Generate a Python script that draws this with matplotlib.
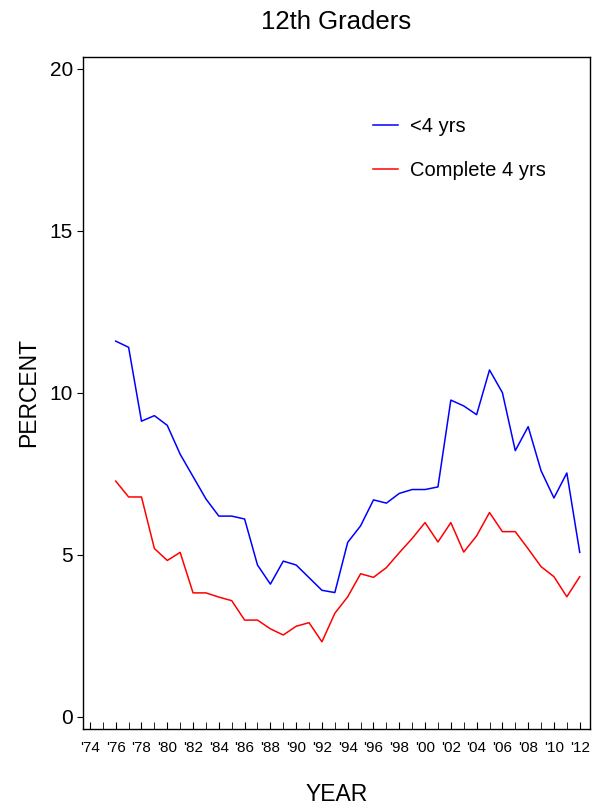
import matplotlib
matplotlib.use("Agg")
import matplotlib.pyplot as plt

plt.rcParams['font.family'] = ['Liberation Sans', 'DejaVu Sans']

# Yıllar ve iki seri (yüzde)
years = list(range(1976, 2013))
less_than_4 = [11.60, 11.41, 9.13, 9.30, 9.00, 8.11, 7.42, 6.73, 6.20, 6.20,
               6.11, 4.69, 4.10, 4.81, 4.69, 4.30, 3.91, 3.84, 5.39, 5.90,
               6.70, 6.60, 6.90, 7.02, 7.02, 7.10, 9.78, 9.60, 9.33, 10.71,
               10.01, 8.22, 8.96, 7.60, 6.76, 7.53, 5.08]
complete_4 = [7.28, 6.79, 6.79, 5.20, 4.83, 5.08, 3.83, 3.83, 3.70, 3.59,
              2.99, 2.99, 2.72, 2.53, 2.80, 2.91, 2.32, 3.20, 3.71, 4.42,
              4.31, 4.61, 5.07, 5.51, 6.00, 5.40, 6.00, 5.09, 5.59, 6.31,
              5.72, 5.72, 5.19, 4.64, 4.33, 3.71, 4.33]
label_years = list(range(1974, 2013, 2))
tick_labels = ["'%02d" % (y % 100) for y in label_years]

fig = plt.figure(figsize=(5.96, 8.07), dpi=100)
ax = fig.add_axes([0.139, 0.0967, 0.851, 0.8327])

ax.plot(years, less_than_4, color='#0000ff', lw=1.1, label='<4 yrs')
ax.plot(years, complete_4, color='#ff0000', lw=1.1, label='Complete 4 yrs')

ax.set_xlim(1973.45, 2012.8)
ax.set_ylim(-0.37, 20.37)

# Y ekseni
ax.set_yticks([0, 5, 10, 15, 20])
ax.tick_params(axis='y', direction='out', length=4, labelsize=15, pad=3)

# X ekseni: her yıl içe dönük çentik, iki yılda bir etiket
ax.set_xticks(list(range(1974, 2013)), minor=True)
ax.set_xticks(label_years)
ax.set_xticklabels(tick_labels)
ax.tick_params(axis='x', which='both', direction='in', length=5, labelsize=11, pad=9)

for side in ['left', 'right', 'top', 'bottom']:
    ax.spines[side].set_linewidth(1.0)

ax.set_title('12th Graders', fontsize=18.5, pad=20)
ax.set_ylabel('PERCENT', fontsize=16.5, labelpad=7)
ax.set_xlabel('YEAR', fontsize=16.5, labelpad=20)

ax.legend(loc='upper left', bbox_to_anchor=(0.536, 0.938), frameon=False,
          fontsize=14.5, handlelength=1.25, handletextpad=0.6,
          labelspacing=1.25, borderpad=0.4)

fig.savefig('out.png', dpi=100)
